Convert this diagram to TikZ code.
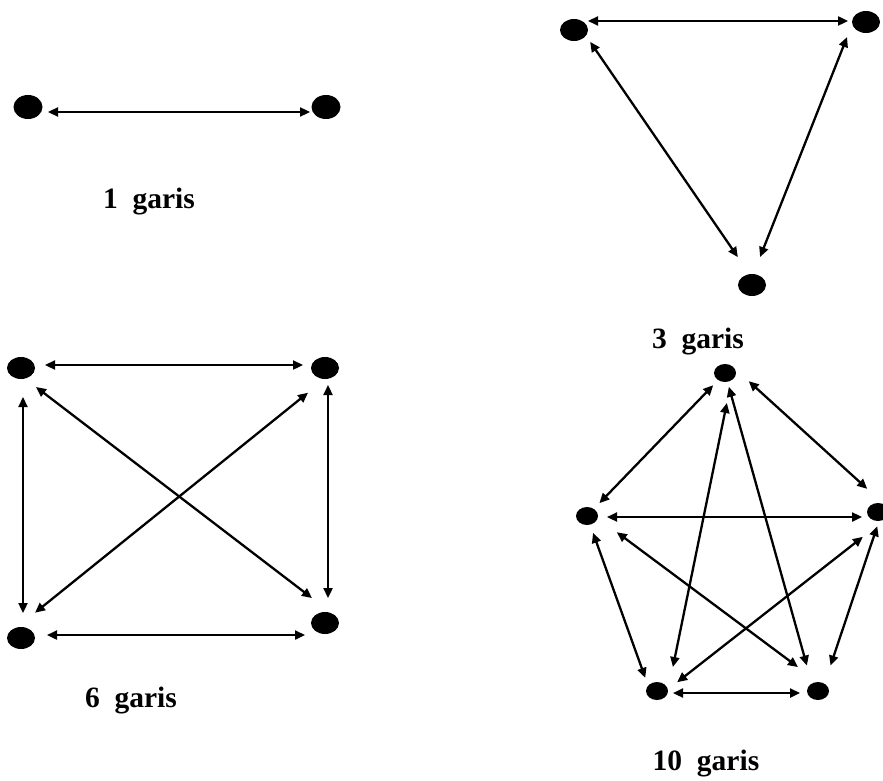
\documentclass[tikz,border=0pt]{standalone}
\usepackage{fontspec}
\setmainfont{Liberation Serif}
\usetikzlibrary{arrows.meta,shapes.geometric}
\tikzset{
  dotA/.style={ellipse,fill=black,inner sep=0pt,minimum width=29pt,minimum height=24pt},
  dotB/.style={ellipse,fill=black,inner sep=0pt,minimum width=28pt,minimum height=22pt},
  dotC/.style={ellipse,fill=black,inner sep=0pt,minimum width=22pt,minimum height=18pt},
  arr/.style={line width=2.3pt,{Triangle[length=10pt,width=9pt]}-{Triangle[length=10pt,width=9pt]}},
  lbl/.style={anchor=base,inner sep=0pt,font=\fontsize{29.5}{32}\selectfont\bfseries}
}
\begin{document}
\begin{tikzpicture}[x=1pt,y=-1pt]
\useasboundingbox (0,0) rectangle (883,781);
% --- 1 garis
\node[dotA] (a1) at (28,107) {};
\node[dotA] (a2) at (326,107) {};
\draw[arr,shorten <=20pt,shorten >=16pt] ([shift={(0,5)}]a1.center) -- ([shift={(0,5)}]a2.center);
\node[lbl] (t1) at (149,208) {1\ \ garis};
% --- 3 garis
\node[dotB] (p) at (574,30) {};
\node[dotB] (q) at (866,22) {};
\node[dotB] (r) at (752,285) {};
\draw[arr,shorten <=14pt,shorten >=18pt] ([shift={(0,-9)}]p.center) -- ([shift={(0,-1)}]q.center);
\draw[arr,shorten <=14.4pt,shorten >=33.8pt] ([shift={(8,0)}]p.center) -- ([shift={(5,0)}]r.center);
\draw[arr,shorten <=16.2pt,shorten >=30.1pt] ([shift={(-13,0)}]q.center) -- ([shift={(-3,0)}]r.center);
\node[lbl] (t3) at (698,348) {3\ \ garis};
% --- 6 garis
\node[dotB] (tl) at (21,368) {};
\node[dotB] (tr) at (325,368) {};
\node[dotB] (bl) at (21,638) {};
\node[dotB] (br) at (325,623) {};
\draw[arr,shorten <=24pt,shorten >=22pt] ([shift={(0,-3)}]tl.center) -- ([shift={(0,-3)}]tr.center);
\draw[arr,shorten <=26pt,shorten >=20pt] ([shift={(0,-3)}]bl.center) -- ([shift={(0,12)}]br.center);
\draw[arr,shorten <=29pt,shorten >=25pt] ([shift={(2,0)}]tl.center) -- ([shift={(2,0)}]bl.center);
\draw[arr,shorten <=17pt,shorten >=25pt] ([shift={(3,0)}]tr.center) -- ([shift={(3,0)}]br.center);
\draw[arr,shorten <=18.9pt,shorten >=16.4pt] ([shift={(0,7.5)}]tl.center) -- ([shift={(0,-15)}]br.center);
\draw[arr,shorten <=21.8pt,shorten >=18pt] ([shift={(0,11)}]tr.center) -- ([shift={(0,-14)}]bl.center);
\node[lbl] (t6) at (131,707) {6\ \ garis};
% --- 10 garis
\node[dotC] (T) at (725,373) {};
\node[dotC] (L) at (587,516) {};
\node[dotC] (R) at (878,512) {};
\node[dotC] (BL) at (657,691) {};
\node[dotC] (BR) at (818,691) {};
\draw[arr,shorten <=17pt,shorten >=17.8pt] (T.center) -- (L.center);
\draw[arr,shorten <=22.6pt,shorten >=24pt] ([shift={(7,-7)}]T.center) -- ([shift={(7,-7)}]R.center);
\draw[arr,shorten <=20pt,shorten >=16pt] ([shift={(0,1)}]L.center) -- ([shift={(0,5)}]R.center);
\draw[arr,shorten <=30.6pt,shorten >=24.5pt] ([shift={(8,0)}]T.center) -- ([shift={(11,0)}]BL.center);
\draw[arr,shorten <=14.3pt,shorten >=26.4pt] (T.center) -- ([shift={(-4,0)}]BR.center);
\draw[arr,shorten <=17.9pt,shorten >=14pt] (L.center) -- ([shift={(-7,0)}]BL.center);
\draw[arr,shorten <=37.2pt,shorten >=25pt] ([shift={(0,-6)}]L.center) -- ([shift={(0,-9)}]BR.center);
\draw[arr,shorten <=19.2pt,shorten >=25.6pt] ([shift={(0,13)}]R.center) -- ([shift={(0,7)}]BL.center);
\draw[arr,shorten <=15pt,shorten >=26.8pt] ([shift={(4,0)}]R.center) -- ([shift={(4,0)}]BR.center);
\draw[arr,shorten <=16pt,shorten >=18pt] ([shift={(0,2)}]BL.center) -- ([shift={(0,2)}]BR.center);
\node[lbl] (t10) at (706,770) {10\ \ garis};
\end{tikzpicture}
\end{document}
